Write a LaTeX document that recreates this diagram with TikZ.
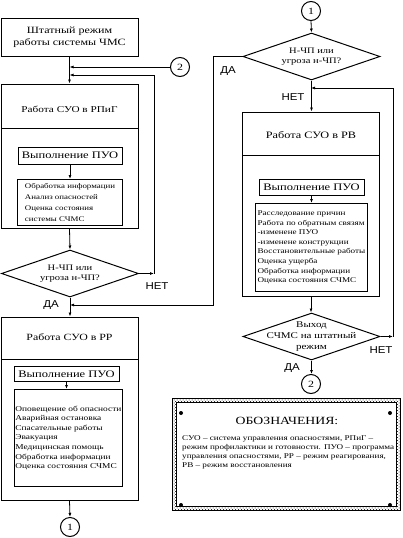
\documentclass[tikz,border=0pt]{standalone}
\usepackage{fontspec}
\setmainfont{Liberation Serif}[FakeStretch=1.25]
\newfontfamily\labelfont{Liberation Sans}[FakeStretch=1.15]
\usetikzlibrary{shapes.geometric,arrows.meta,patterns}

\tikzset{
  frame/.style={draw, line width=1pt, minimum width=137pt, inner sep=0pt},
  pvobox/.style={draw, line width=1pt, inner sep=0pt, font=\fontsize{10}{12}\selectfont},
  listbox/.style={draw, line width=0.9pt, inner sep=2pt, align=left, anchor=north west,
    font=\fontsize{7.5}{9.6}\selectfont},
  query/.style={draw, diamond, line width=1pt, inner sep=0pt, minimum width=137pt,
    minimum height=47pt, aspect=2.9},
  querytext/.style={inner sep=0pt, align=center, font=\fontsize{8.4}{10}\selectfont},
  conn/.style={draw, circle, line width=1pt, minimum size=19pt, inner sep=0pt,
    font=\fontsize{9.5}{9.5}\selectfont},
  answer/.style={font=\labelfont\fontsize{10}{10}\selectfont},
  arr/.style={-{Latex[length=4pt,width=3pt]}, line width=0.8pt},
  ln/.style={line width=1pt}
}

\begin{document}
\begin{tikzpicture}[x=1pt, y=-1pt]
        \useasboundingbox (0,0) rectangle (403,538);

        % left column
        \node[frame, minimum height=38pt, align=center, font=\fontsize{9.6}{12}\selectfont]
          (start) at (69.5,37) {Штатный режим\\работы системы ЧМС};
        \node[conn] (c2t) at (180,67) {2};

        \node[frame, minimum height=144pt] (rpig) at (69.5,156) {};
        \node[font=\fontsize{9}{11}\selectfont] (rpigt) at (69.5,109) {Работа СУО в РПиГ};
        \draw[ln] (1,128) -- (138,128);
        \node[pvobox, minimum width=104pt, minimum height=17pt] (pvo1) at (70,155.5) {Выполнение ПУО};
        \node[listbox, minimum width=105pt, minimum height=45pt, inner sep=4pt,
          font=\fontsize{7.1}{11}\selectfont] (list1) at (17,179)
          {Обработка информации\\Анализ опасностей\\Оценка состояния\\системы СЧМС};

        \node[query] (dia1) at (70,273.5) {};
        \node[querytext] (dia1t) at (dia1.center) {Н-ЧП или\\угроза н-ЧП?};
        \node[answer] (no1) at (157,286) {НЕТ};
        \node[answer] (yes1) at (51,305) {ДА};

        \node[frame, minimum height=183pt] (rr) at (69.5,408.5) {};
        \node[font=\fontsize{9.5}{11}\selectfont] (rrt) at (69.5,337) {Работа СУО в РР};
        \draw[ln] (1,359) -- (138,359);
        \node[pvobox, minimum width=105pt, minimum height=15pt] (pvo2) at (66.5,374) {Выполнение ПУО};
        \node[listbox, minimum width=105pt, minimum height=97pt, inner sep=1pt] (list2) at (14,389)
          {Оповещение об опасности\\Аварийная остановка\\Спасательные работы\\Эвакуация\\Медицинская помощь\\Обработка информации\\Оценка состояния СЧМС};
        \node[conn] (c1b) at (70,527) {1};

        % right column
        \node[conn] (c1t) at (311,11) {1};
        \node[query] (dia2) at (311.5,56.5) {};
        \node[querytext] (dia2t) at (dia2.center) {Н-ЧП или\\угроза н-ЧП?};
        \node[answer] (yes2) at (228,71) {ДА};
        \node[answer] (no2) at (293,97) {НЕТ};

        \node[frame, minimum height=184pt] (rv) at (311,204) {};
        \node[font=\fontsize{9.8}{11}\selectfont] (rvt) at (311,135) {Работа СУО в РВ};
        \draw[ln] (242.5,155) -- (379.5,155);
        \node[pvobox, minimum width=105pt, minimum height=16pt] (pvo3) at (311.5,187) {Выполнение ПУО};
        \node[listbox, minimum width=112pt, minimum height=88pt, font=\fontsize{7.3}{9.6}\selectfont] (list3) at (255,203)
          {Расследование причин\\Работа по обратным связям\\-изменене ПУО\\-изменене конструкции\\Восстановительные работы\\Оценка ущерба\\Обработка информации\\Оценка состояния СЧМС};

        \node[query] (dia3) at (311.5,336.5) {};
        \node[querytext, font=\fontsize{8.8}{10.8}\selectfont] (dia3t) at (dia3.center) {Выход\\СЧМС на штатный\\режим};
        \node[answer] (no3) at (381,350) {НЕТ};
        \node[answer] (yes3) at (292,368) {ДА};
        \node[conn] (c2b) at (311,384) {2};

        \coordinate (loopa) at (154,75);
        \coordinate (loopb) at (213,305);
        \coordinate (loopc) at (393,88);

        % connectors
        \draw[arr] (start.south) -- (rpig.north);
        \draw[arr] (c2t.west) -- (c2t.west -| start.south);
        \draw[arr] (dia1.east) -- (dia1.east -| loopa);
        \draw[arr] (dia1.east -| loopa) -- (loopa) -- (loopa -| start.south);
        \draw[arr] (pvo1.south) -- (pvo1.south |- list1.north);
        \draw[arr] (rpig.south) -- (dia1.north);
        \draw[arr] (dia1.south) -- (dia1.south |- rr.north);
        \draw[arr] (dia2.west) -- (dia2.west -| loopb) -- (loopb) -- (loopb -| dia1.south);
        \draw[arr] (pvo2.south) -- (pvo2.south |- list2.north);
        \draw[arr] (rr.south) -- (c1b.north);

        \draw[arr] (c1t.south) -- (dia2.north);
        \draw[arr] (dia2.south) -- (dia2.south |- rv.north);
        \draw[arr] (pvo3.south) -- (pvo3.south |- list3.north);
        \draw[arr] (rv.south) -- (rv.south |- dia3.north);
        \draw[arr] (dia3.east) -- (dia3.east -| loopc);
        \draw[arr] (dia3.east -| loopc) -- (loopc) -- (loopc -| rv.north);
        \draw[arr] (dia3.south) -- (dia3.south |- c2b.north);

        % legend
        \draw[pattern=crosshatch dots, pattern color=black, line width=1pt] (172,398) rectangle (400,510);
        \draw[fill=white, line width=1pt] (176,402) rectangle (396,506);
        \foreach \dx/\dy in {181/413, 390/413, 181/505, 390/505}
          \fill (\dx,\dy) circle (2pt);
        \node[font=\fontsize{11}{13}\selectfont] (legt) at (287,421) {ОБОЗНАЧЕНИЯ:};
        \node[anchor=north west, align=left, inner sep=0pt, font=\fontsize{7.3}{9.3}\selectfont] (legx) at (182,435)
          {СУО -- система управления опасностями, РПиГ --\\режим профилактики и готовности. ПУО -- программа\\управления опасностями, РР -- режим реагирования,\\РВ -- режим восстановления};
\end{tikzpicture}
\end{document}
